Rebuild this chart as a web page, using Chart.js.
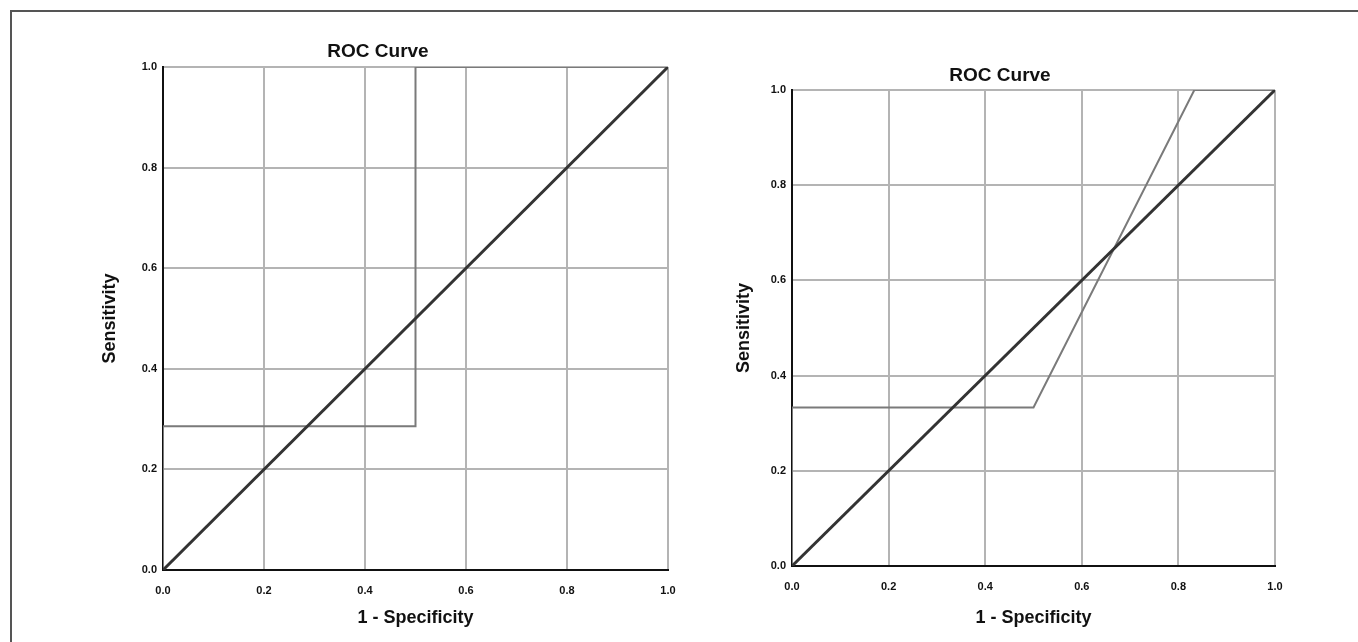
<!DOCTYPE html>
<html>
<head>
<meta charset="utf-8">
<script src="https://cdn.jsdelivr.net/npm/chart.js@4/dist/chart.umd.min.js"></script>
<style>
  html, body { margin: 0; padding: 0; background: #fff; width: 1358px; height: 642px; overflow: hidden; }
  #frame { position: absolute; left: 10px; top: 10px; width: 1400px; height: 700px; border-left: 2px solid #555; border-top: 2px solid #555; }
  .box { position: absolute; }
</style>
</head>
<body>
<div id="frame"></div>
<div class="box" id="boxL" style="left:88px; top:20px; width:602px; height:622px;"><canvas id="cL"></canvas></div>
<div class="box" id="boxR" style="left:725px; top:30px; width:575px; height:612px;"><canvas id="cR"></canvas></div>
<script>
// ---- data ----
const chartTitle = "ROC Curve";
const xAxisTitle = "1 - Specificity";
const yAxisTitle = "Sensitivity";
const tickValues = [0.0, 0.2, 0.4, 0.6, 0.8, 1.0];
const refLineX = [0, 1];
const refLineY = [0, 1];
// left panel ROC curve
const leftRocX = [0, 0, 0.5, 0.5, 1];
const leftRocY = [0, 0.286, 0.286, 1, 1];
// right panel ROC curve
const rightRocX = [0, 0, 0.5, 0.833, 1];
const rightRocY = [0, 0.333, 0.333, 1, 1];

const FONT = "'Liberation Sans', Arial, sans-serif";

function pts(xs, ys) { return xs.map((x, i) => ({x: x, y: ys[i]})); }

function makeChart(id, rocX, rocY, cfg) {
  const gridColor = '#b4b4b4';
  new Chart(document.getElementById(id), {
    type: 'scatter',
    data: {
      datasets: [
        { data: pts(rocX, rocY), showLine: true, borderColor: '#7a7a7a', borderWidth: 2, pointRadius: 0, tension: 0, order: 2 },
        { data: pts(refLineX, refLineY), showLine: true, borderColor: '#333333', borderWidth: 3, pointRadius: 0, tension: 0, order: 1 }
      ]
    },
    options: {
      responsive: true,
      maintainAspectRatio: false,
      animation: false,
      layout: { padding: cfg.pad },
      plugins: {
        legend: { display: false },
        tooltip: { enabled: false },
        title: { display: true, text: chartTitle, color: '#111', font: { family: FONT, size: 19, weight: 'bold' }, padding: { top: 0, bottom: cfg.titleGap } }
      },
      scales: {
        x: {
          type: 'linear', min: 0, max: 1,
          afterFit: s => { s.height = cfg.hx; },
          afterBuildTicks: s => { s.ticks = tickValues.map(v => ({value: v})); },
          ticks: { color: '#111', padding: 14, font: { family: FONT, size: 11, weight: 'bold' }, callback: v => v.toFixed(1) },
          grid: { color: gridColor, lineWidth: 2, drawTicks: false },
          border: { color: '#111', width: 2 },
          title: { display: true, text: xAxisTitle, color: '#111', font: { family: FONT, size: 18, weight: 'bold' }, padding: { top: 0, bottom: cfg.xtPad } }
        },
        y: {
          type: 'linear', min: 0, max: 1,
          afterFit: s => { s.width = cfg.wy; },
          afterBuildTicks: s => { s.ticks = tickValues.map(v => ({value: v})); },
          ticks: { color: '#111', padding: 6, font: { family: FONT, size: 11, weight: 'bold' }, callback: v => v.toFixed(1) },
          grid: { color: gridColor, lineWidth: 2, drawTicks: false },
          border: { color: '#111', width: 2 },
          title: { display: true, text: yAxisTitle, color: '#111', font: { family: FONT, size: 18, weight: 'bold' }, padding: { top: cfg.ytPad, bottom: 0 } }
        }
      }
    }
  });
}

makeChart('cL', leftRocX, leftRocY, {
  pad: { left: 0, right: 22, top: 20.6, bottom: 6 },
  titleGap: 3.6, hx: 66, xtPad: 7.2, wy: 75, ytPad: 11.2
});
makeChart('cR', rightRocX, rightRocY, {
  pad: { left: 0, right: 25, top: 34.6, bottom: 6 },
  titleGap: 2.6, hx: 70, xtPad: 7.2, wy: 67, ytPad: 8.2
});
</script>
</body>
</html>
